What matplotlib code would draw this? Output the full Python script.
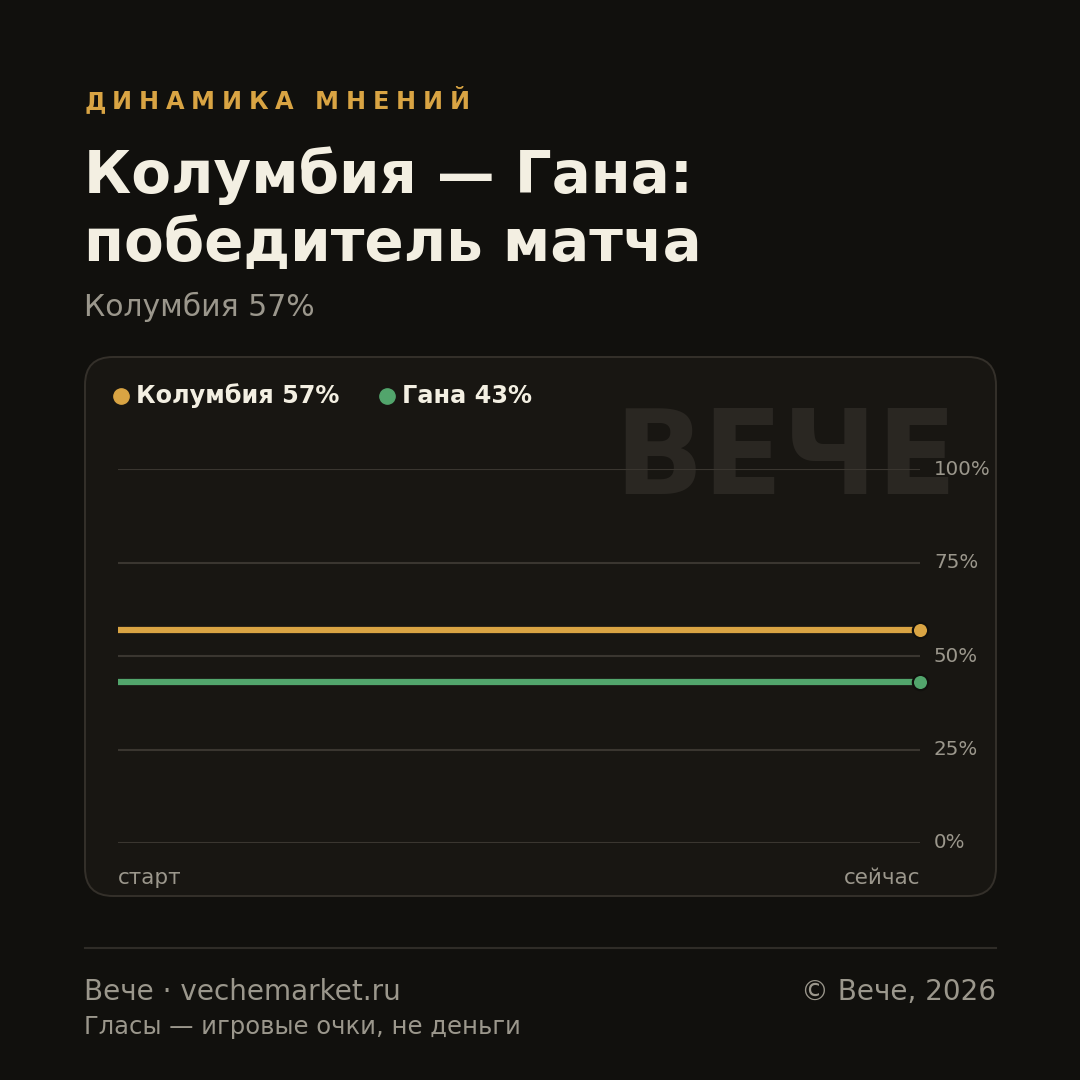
import matplotlib

matplotlib.use("Agg")

import matplotlib.pyplot as plt
from matplotlib.font_manager import FontProperties
from matplotlib.patches import FancyBboxPatch
from matplotlib.textpath import text_to_path

plt.rcParams["font.family"] = ["DejaVu Sans"]

# data
series_names = ["Колумбия", "Гана"]
series_values = [[57, 57], [43, 43]]
series_colors = ["#d9a443", "#52a56c"]
x_points = [0, 1]
x_labels = ["старт", "сейчас"]
y_ticks = [0, 25, 50, 75, 100]

BG = "#11100d"
CARD = "#181612"
CREAM = "#f3efe2"
GRAY = "#9b978c"
DPI = 100
PX = 72 / DPI  # points per pixel

fig = plt.figure(figsize=(10.8, 10.8), dpi=DPI, facecolor=BG)
bg = fig.add_axes([0, 0, 1, 1])
bg.set_xlim(0, 1080)
bg.set_ylim(1080, 0)
bg.axis("off")
bg.set_facecolor(BG)


def text_width_px(s, size_pt, weight="normal"):
    prop = FontProperties(family="DejaVu Sans", weight=weight, size=size_pt)
    return text_to_path.get_text_width_height_descent(s, prop, ismath=False)[0] / PX


def spaced_text(ax, x, y, s, size_pt, spacing_px, weight="normal", **kw):
    for i, ch in enumerate(s):
        w = text_width_px(s[:i], size_pt, weight) if i else 0
        ax.text(x + w + i * spacing_px, y, ch, fontsize=size_pt, weight=weight, **kw)


# header
spaced_text(bg, 84, 109, "ДИНАМИКА МНЕНИЙ", 17.3, 6.7, weight="bold", color="#d9a443",
            va="baseline")
bg.text(84, 193, "Колумбия — Гана:", fontsize=41.7, weight="bold", color=CREAM, va="baseline")
bg.text(84, 261, "победитель матча", fontsize=41.7, weight="bold", color=CREAM, va="baseline")
bg.text(84, 316, f"{series_names[0]} {series_values[0][-1]}%", fontsize=21.5, color=GRAY,
        va="baseline")

# card
card = FancyBboxPatch((85, 357), 911, 539, boxstyle="round,pad=0,rounding_size=28",
                      facecolor=CARD, edgecolor="#34302a", linewidth=1.4, zorder=1)
bg.add_patch(card)
bg.text(957, 494, "ВЕЧЕ", fontsize=84, weight="bold", color="#2a2722", ha="right",
        va="baseline", zorder=2)

# legend
lx = 121
for name, vals, col in zip(series_names, series_values, series_colors):
    label = f"{name} {vals[-1]}%"
    bg.plot(lx, 395.5, "o", ms=11, color=col, mec=col, zorder=3)
    bg.text(lx + 15, 403, label, fontsize=17.3, weight="bold", color=CREAM,
            va="baseline", zorder=3)
    lx += 15 + text_width_px(label, 17.3, "bold") + 47

# footer
bg.plot([85, 996], [948, 948], color="#2f2c27", lw=1.5)
bg.text(84, 1000, "Вече · vechemarket.ru", fontsize=20.1, color=GRAY, va="baseline")
bg.text(84, 1034, "Гласы — игровые очки, не деньги", fontsize=17.5, color=GRAY, va="baseline")
bg.text(996, 1000, "© Вече, 2026", fontsize=20.1, color=GRAY, va="baseline", ha="right")

# chart
ax = fig.add_axes([118 / 1080, 1 - 843 / 1080, (920 - 118) / 1080, (843 - 469) / 1080])
ax.patch.set_alpha(0)
ax.set_xlim(0, 1)
ax.set_ylim(0, 100)
for s in ax.spines.values():
    s.set_visible(False)
ax.set_xticks([])
ax.set_yticks([])
for yv in y_ticks:
    ax.axhline(yv, color="#3a3630", lw=1.5, zorder=1)
    ax.text(1 + 14 / 802, yv, f"{yv}%", transform=ax.get_yaxis_transform(), fontsize=14.3,
            color=GRAY, va="center", ha="left")
for vals, col in zip(series_values, series_colors):
    ax.plot(x_points, vals, color=col, lw=4.5, solid_capstyle="butt", zorder=3)
    ax.plot(x_points[-1], vals[-1], "o", ms=11, color=col, mec=BG, mew=1.6, zorder=4,
            clip_on=False)
ax.text(0, -11, x_labels[0], fontsize=15.5, color=GRAY, ha="left", va="baseline")
ax.text(1, -11, x_labels[1], fontsize=15.5, color=GRAY, ha="right", va="baseline")

fig.savefig("out.png", dpi=DPI, facecolor=BG)
